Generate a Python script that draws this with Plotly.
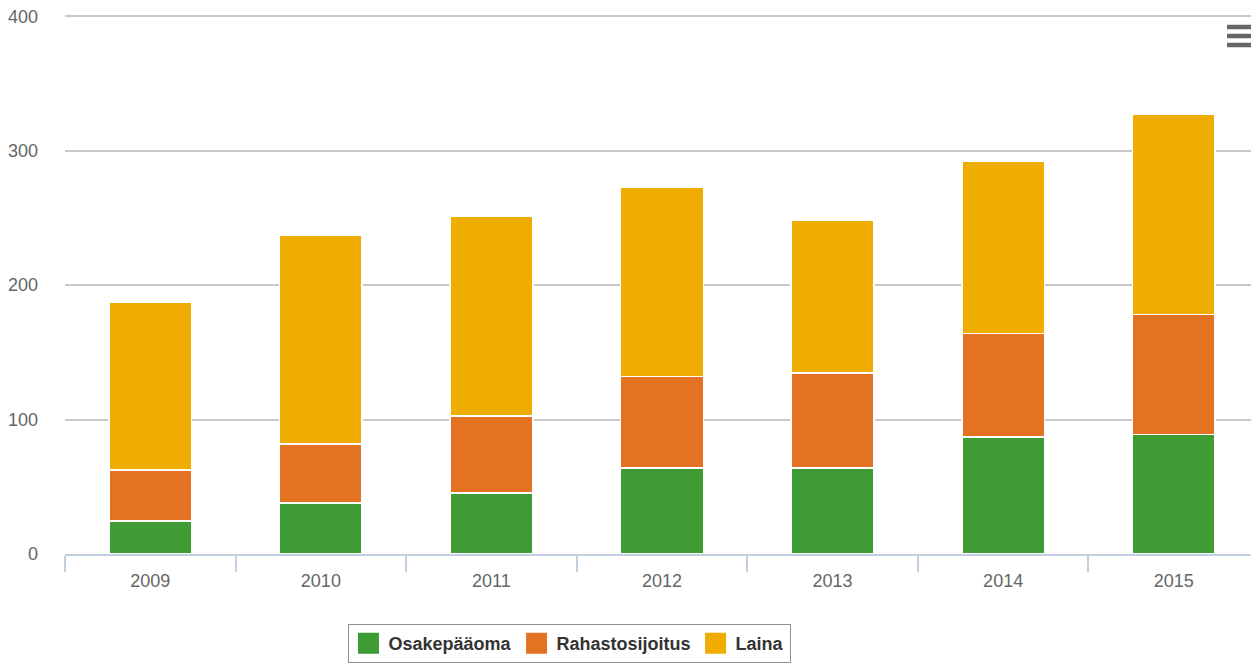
import plotly.graph_objects as go

years = ["2009", "2010", "2011", "2012", "2013", "2014", "2015"]
osakepaaoma = [24.5, 38, 45.5, 64, 64, 87, 89]
rahastosijoitus = [38, 44, 57, 68, 70.5, 77, 89]
laina = [124.5, 155, 149, 141, 114, 128.5, 149.5]

series = [
    ("Osakepääoma", osakepaaoma, "#3F9C35"),
    ("Rahastosijoitus", rahastosijoitus, "#E37222"),
    ("Laina", laina, "#EEAD00"),
]

# page has an 8px body margin; compensate so the plot lands where the reference has it
OFF = 8
W, H = 1259 - OFF, 664 - OFF
ML, MR, MT, MB = 65 - OFF, 0, 15 - OFF, 110
PW, PH = W - ML - MR, H - MT - MB

def px_x(x):  # page pixel -> paper x
    return (x - OFF - ML) / PW

def px_y(y):  # page pixel -> paper y
    return (H - MB - (y - OFF)) / PH

fig = go.Figure()
for name, vals, color in series:
    fig.add_trace(go.Bar(
        x=years, y=vals, name=name, legendgroup=name, showlegend=False,
        marker=dict(color=color, line=dict(color="white", width=1.5)),
    ))
# legend entries with larger square swatches
for name, vals, color in series:
    fig.add_trace(go.Scatter(
        x=[None], y=[None], name=name, legendgroup=name, mode="markers",
        marker=dict(symbol="square", size=16, color=color, line=dict(color=color, width=5)),
    ))

shapes = []
for yy in (27, 36, 45):
    shapes.append(dict(type="line", xref="paper", yref="paper",
                       x0=px_x(1227), x1=px_x(1253), y0=px_y(yy), y1=px_y(yy),
                       line=dict(color="#666666", width=4.5)))

fig.update_layout(
    width=W, height=H,
    margin=dict(l=ML, r=MR, t=MT, b=MB),
    barmode="stack",
    bargap=0.515,
    plot_bgcolor="white",
    paper_bgcolor="white",
    font=dict(family="Liberation Sans, Arial, sans-serif", size=18, color="#666666"),
    xaxis=dict(
        type="category",
        showgrid=False,
        showline=True, linecolor="#C0D0E0", linewidth=1.5,
        ticks="outside", tickson="boundaries", ticklen=16, tickcolor="#C0D0E0", tickwidth=1.5,
        ticklabelstandoff=10,
        tickfont=dict(size=18, color="#666666"),
    ),
    yaxis=dict(
        range=[0, 401], tickvals=[0, 100, 200, 300, 400],
        showgrid=True, gridcolor="#C8C8C8", gridwidth=1.5,
        zeroline=False, showline=False,
        ticks="", ticklabelstandoff=26, ticklabeloverflow="allow",
        tickfont=dict(size=18, color="#666666"),
    ),
    legend=dict(
        orientation="h", x=px_x(569), xanchor="center", y=px_y(624), yanchor="top",
        bordercolor="#909090", borderwidth=1,
        font=dict(size=18, color="#333333", family="Liberation Sans, Arial, sans-serif", weight="bold"),
        itemsizing="trace", traceorder="normal",
    ),
    shapes=shapes,
    showlegend=True,
)

fig.write_html("out.html")
